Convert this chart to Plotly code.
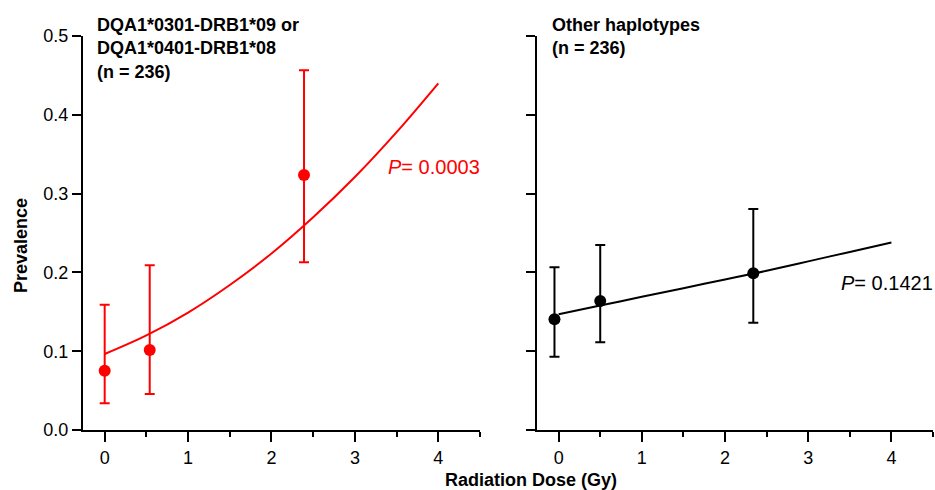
import plotly.graph_objects as go

# ---- data ----
dose_left = [0.0, 0.54, 2.39]
prev_left = [0.0753, 0.1015, 0.3236]
ci_hi_left = [0.159, 0.209, 0.4565]
ci_lo_left = [0.034, 0.0457, 0.213]

dose_right = [-0.05, 0.50, 2.34]
prev_right = [0.1405, 0.1637, 0.1989]
ci_hi_right = [0.2065, 0.2348, 0.2805]
ci_lo_right = [0.093, 0.1113, 0.136]

fit_x = [0, 0.5, 1, 1.5, 2, 2.5, 3, 3.5, 4]
fit_left = [0.0964, 0.120, 0.149, 0.184, 0.224, 0.270, 0.321, 0.378, 0.440]
fit_right = [0.147, 0.158, 0.169, 0.180, 0.191, 0.202, 0.214, 0.226, 0.238]

x_ticks = [0, 1, 2, 3, 4]
y_ticks = [0.0, 0.1, 0.2, 0.3, 0.4, 0.5]
y_tick_labels = ["0.0", "0.1", "0.2", "0.3", "0.4", "0.5"]

FONT = "Arial, Liberation Sans, sans-serif"
RED = "#ff0000"
BLACK = "#000000"

fig = go.Figure()

def add_panel(xs, ys, hi, lo, fy, color, xa, ya):
    fig.add_trace(go.Scatter(x=fit_x, y=fy, mode="lines",
                             line=dict(color=color, width=2, shape="spline", smoothing=1.0),
                             xaxis=xa, yaxis=ya, showlegend=False, hoverinfo="skip"))
    fig.add_trace(go.Scatter(
        x=xs, y=ys, mode="markers",
        marker=dict(color=color, size=12, line=dict(width=0)),
        error_y=dict(type="data", symmetric=False,
                     array=[h - y for h, y in zip(hi, ys)],
                     arrayminus=[y - l for l, y in zip(lo, ys)],
                     color=color, thickness=2, width=5),
        xaxis=xa, yaxis=ya, showlegend=False))

add_panel(dose_left, prev_left, ci_hi_left, ci_lo_left, fit_left, RED, "x", "y")
add_panel(dose_right, prev_right, ci_hi_right, ci_lo_right, fit_right, BLACK, "x2", "y2")

xcommon = dict(range=[-0.26, 4.5], tickmode="array", tickvals=x_ticks,
               showline=True, linecolor="black", linewidth=2, ticks="outside",
               ticklen=10, tickwidth=2, tickcolor="black", showgrid=False, zeroline=False,
               tickfont=dict(family=FONT, size=18, color="black"),
               minor=dict(tickvals=[0.5, 1.5, 2.5, 3.5, 4.5], ticks="outside", ticklen=5,
                          tickwidth=2, tickcolor="black"))
ycommon = dict(range=[0, 0.5], tickmode="array", tickvals=y_ticks,
               showline=True, linecolor="black", linewidth=2, ticks="outside",
               ticklen=9, tickwidth=2, tickcolor="black", showgrid=False, zeroline=False,
               tickfont=dict(family=FONT, size=18, color="black"))

W, H = 935, 490
fig.update_layout(
    width=W, height=H,
    margin=dict(l=0, r=0, t=36, b=60),
    plot_bgcolor="white", paper_bgcolor="white",
    font=dict(family=FONT, color="black"),
    xaxis=dict(domain=[83 / W, 480 / W], anchor="y", **xcommon),
    yaxis=dict(domain=[0, 1], anchor="x", ticktext=y_tick_labels, **ycommon),
    xaxis2=dict(domain=[537 / W, 933 / W], anchor="y2", **xcommon),
    yaxis2=dict(domain=[0, 1], anchor="x2", showticklabels=False, **ycommon),
)

fig.add_annotation(xref="paper", yref="paper", x=21 / W, y=(430 - 246) / 394, xanchor="center", yanchor="middle",
                   text="<b>Prevalence</b>", textangle=-90, showarrow=False,
                   font=dict(family=FONT, size=18, color="black"))
fig.add_annotation(xref="paper", yref="paper", x=531 / W, y=(430 - 480) / 394, xanchor="center", yanchor="middle",
                   text="<b>Radiation Dose (Gy)</b>", showarrow=False,
                   font=dict(family=FONT, size=18, color="black"))

fig.add_annotation(xref="x domain", yref="paper", x=(95 - 83) / 397, y=1 + (36 - 13) / 394,
                   xanchor="left", yanchor="top",
                   text="<b>DQA1*0301-DRB1*09 or<br>DQA1*0401-DRB1*08<br>(n = 236)</b>",
                   align="left", showarrow=False, font=dict(family=FONT, size=18, color="black"))
fig.add_annotation(xref="x2 domain", yref="paper", x=(550 - 537) / 396, y=1 + (36 - 13) / 394,
                   xanchor="left", yanchor="top",
                   text="<b>Other haplotypes<br>(n = 236)</b>",
                   align="left", showarrow=False, font=dict(family=FONT, size=18, color="black"))

fig.add_annotation(xref="x", yref="y", x=3.37, y=0.334, xanchor="left", yanchor="middle",
                   text="<i>P</i>= 0.0003", showarrow=False, font=dict(family=FONT, size=20, color=RED))
fig.add_annotation(xref="x2", yref="y2", x=3.37, y=0.1865, xanchor="left", yanchor="middle",
                   text="<i>P</i>= 0.1421", showarrow=False, font=dict(family=FONT, size=20, color=BLACK))

fig.write_html("out.html")
